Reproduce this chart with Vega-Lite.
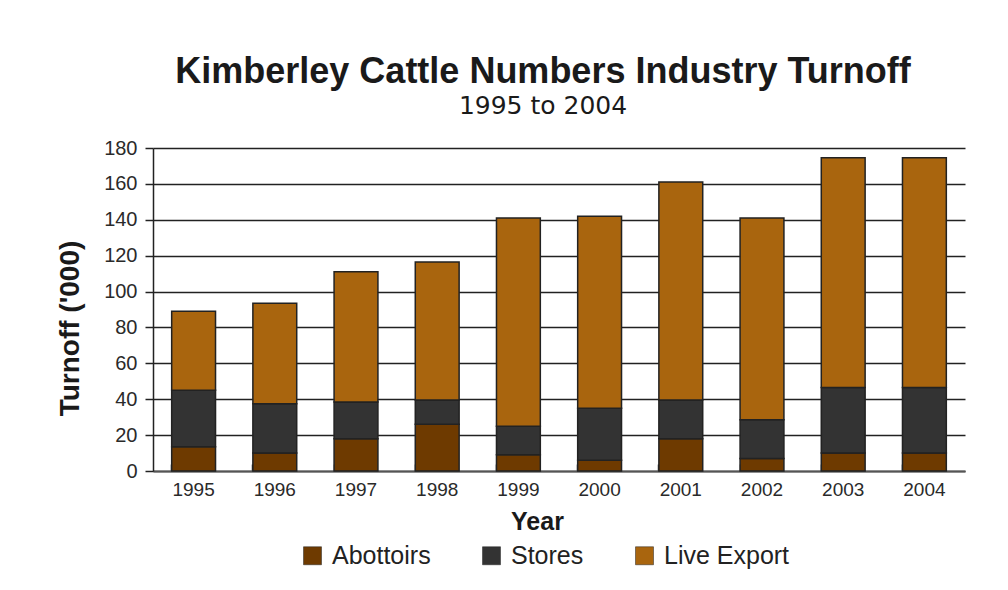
{
  "$schema": "https://vega.github.io/schema/vega-lite/v6.json",
  "autosize": {"type": "none"},
  "width": 812,
  "height": 323,
  "padding": {"left": 153, "top": 148, "right": 43, "bottom": 119},
  "background": "white",
  "title": {
    "text": "Kimberley Cattle Numbers Industry Turnoff",
    "subtitle": "1995 to 2004",
    "anchor": "middle",
    "dx": -16,
    "offset": 18,
    "font": "Liberation Sans",
    "fontSize": 36,
    "fontWeight": "bold",
    "color": "#1a1a1a",
    "subtitleFont": "DejaVu Sans",
    "subtitleFontSize": 25,
    "subtitleColor": "#1a1a1a",
    "subtitlePadding": 3
  },
  "data": {
    "values": [
      {"year": "1995", "type": "Abottoirs", "k": 1, "v": 13.5},
      {"year": "1995", "type": "Stores", "k": 2, "v": 31.5},
      {"year": "1995", "type": "Live Export", "k": 3, "v": 44},
      {"year": "1996", "type": "Abottoirs", "k": 1, "v": 10},
      {"year": "1996", "type": "Stores", "k": 2, "v": 27.5},
      {"year": "1996", "type": "Live Export", "k": 3, "v": 56},
      {"year": "1997", "type": "Abottoirs", "k": 1, "v": 18},
      {"year": "1997", "type": "Stores", "k": 2, "v": 20.5},
      {"year": "1997", "type": "Live Export", "k": 3, "v": 72.5},
      {"year": "1998", "type": "Abottoirs", "k": 1, "v": 26},
      {"year": "1998", "type": "Stores", "k": 2, "v": 13.5},
      {"year": "1998", "type": "Live Export", "k": 3, "v": 77},
      {"year": "1999", "type": "Abottoirs", "k": 1, "v": 9},
      {"year": "1999", "type": "Stores", "k": 2, "v": 16},
      {"year": "1999", "type": "Live Export", "k": 3, "v": 116},
      {"year": "2000", "type": "Abottoirs", "k": 1, "v": 6},
      {"year": "2000", "type": "Stores", "k": 2, "v": 29},
      {"year": "2000", "type": "Live Export", "k": 3, "v": 107},
      {"year": "2001", "type": "Abottoirs", "k": 1, "v": 18},
      {"year": "2001", "type": "Stores", "k": 2, "v": 21.5},
      {"year": "2001", "type": "Live Export", "k": 3, "v": 121.5},
      {"year": "2002", "type": "Abottoirs", "k": 1, "v": 7},
      {"year": "2002", "type": "Stores", "k": 2, "v": 21.5},
      {"year": "2002", "type": "Live Export", "k": 3, "v": 112.5},
      {"year": "2003", "type": "Abottoirs", "k": 1, "v": 10},
      {"year": "2003", "type": "Stores", "k": 2, "v": 36.5},
      {"year": "2003", "type": "Live Export", "k": 3, "v": 128},
      {"year": "2004", "type": "Abottoirs", "k": 1, "v": 10},
      {"year": "2004", "type": "Stores", "k": 2, "v": 36.5},
      {"year": "2004", "type": "Live Export", "k": 3, "v": 128}
    ]
  },
  "mark": {"type": "bar", "stroke": "#222222", "strokeWidth": 1.5},
  "encoding": {
    "x": {
      "field": "year",
      "type": "ordinal",
      "scale": {"paddingInner": 0.46, "paddingOuter": 0.23},
      "axis": {
        "title": "Year",
        "titleFont": "Liberation Sans",
        "titleFontSize": 25,
        "titleFontWeight": "bold",
        "titleColor": "#1a1a1a",
        "titlePadding": 10,
        "titleX": 384,
        "labelAngle": 0,
        "labelFont": "Liberation Sans",
        "labelFontSize": 19,
        "labelColor": "#2a2a2a",
        "labelPadding": 16,
        "bandPosition": 0,
        "tickSize": -7,
        "tickColor": "#333333",
        "tickWidth": 1.5,
        "domainColor": "#555555",
        "domainWidth": 2,
        "grid": false
      }
    },
    "y": {
      "field": "v",
      "type": "quantitative",
      "stack": "zero",
      "scale": {"domain": [0, 180]},
      "axis": {
        "title": "Turnoff ('000)",
        "titleFont": "Liberation Sans",
        "titleFontSize": 28,
        "titleFontWeight": "bold",
        "titleColor": "#1a1a1a",
        "titlePadding": 19,
        "titleY": 180,
        "values": [0, 20, 40, 60, 80, 100, 120, 140, 160, 180],
        "labelFont": "Liberation Sans",
        "labelFontSize": 20,
        "labelColor": "#2a2a2a",
        "labelPadding": 8,
        "tickSize": 8,
        "tickColor": "#222222",
        "tickWidth": 1.5,
        "domainColor": "#222222",
        "domainWidth": 1.5,
        "grid": true,
        "gridColor": "#222222",
        "gridWidth": 1.5,
        "gridOpacity": 1
      }
    },
    "color": {
      "field": "type",
      "type": "nominal",
      "sort": ["Abottoirs", "Stores", "Live Export"],
      "scale": {"domain": ["Abottoirs", "Stores", "Live Export"], "range": ["#6e3a00", "#333333", "#a9650e"]},
      "legend": {
        "title": null,
        "orient": "none",
        "direction": "horizontal",
        "legendX": 147,
        "legendY": 395,
        "symbolType": "square",
        "symbolSize": 324,
        "symbolStrokeColor": "#222222",
        "symbolStrokeWidth": 0.5,
        "labelFont": "Liberation Sans",
        "labelFontSize": 25,
        "labelColor": "#222222",
        "labelOffset": 7,
        "columnPadding": 48
      }
    },
    "order": {"field": "k", "type": "quantitative"}
  },
  "config": {"view": {"stroke": null}}
}
